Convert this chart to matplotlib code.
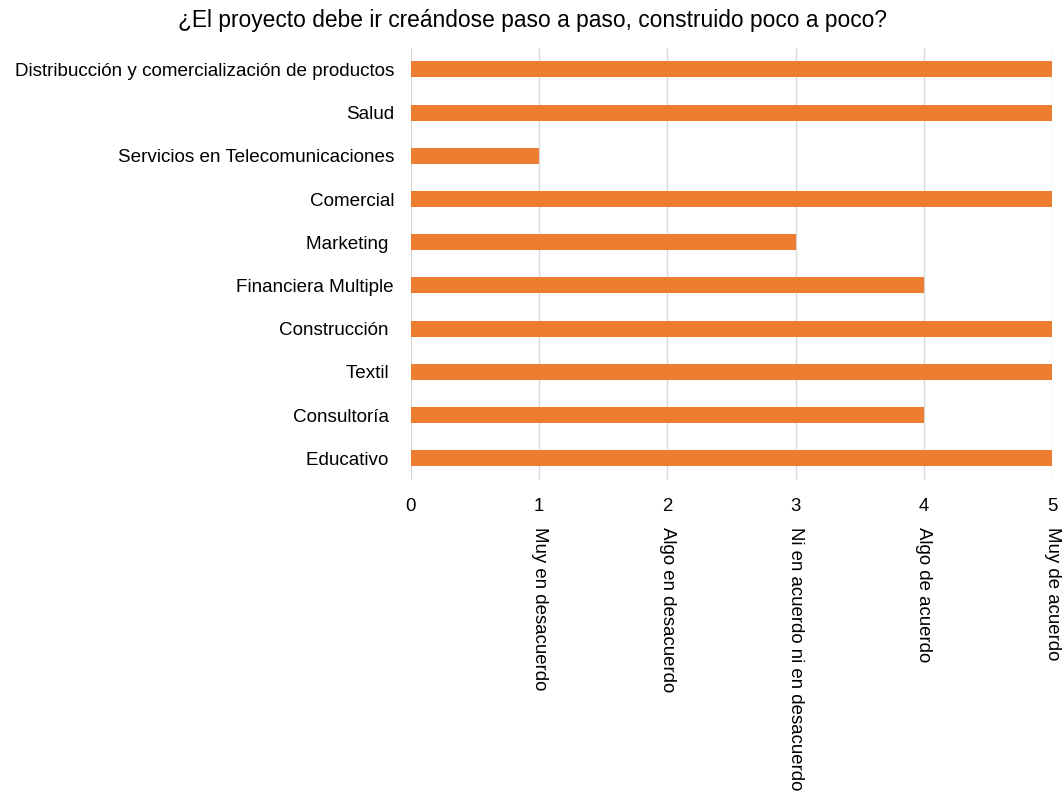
import matplotlib.pyplot as plt

plt.rcParams['font.family'] = ['Liberation Sans', 'DejaVu Sans']

sectores = [
    "Distribucción y comercialización de productos",
    "Salud",
    "Servicios en Telecomunicaciones",
    "Comercial",
    "Marketing ",
    "Financiera Multiple",
    "Construcción ",
    "Textil ",
    "Consultoría ",
    "Educativo ",
]
respuestas = [5, 5, 1, 5, 3, 4, 5, 5, 4, 5]
escala = ["Muy en desacuerdo", "Algo en desacuerdo",
          "Ni en acuerdo ni en desacuerdo", "Algo de acuerdo", "Muy de acuerdo"]

fig = plt.figure(figsize=(10.64, 7.96), dpi=100)
ax = fig.add_axes([0.386, 0.397, 0.603, 0.543])

pos = list(range(len(sectores)))
ax.barh(pos, respuestas, height=0.37, color='#ED7D31', zorder=3)
ax.set_ylim(len(sectores) - 0.5, -0.5)
ax.set_xlim(0, 5)
ax.set_yticks(pos)
ax.set_yticklabels(sectores, fontsize=13.6)
ax.set_xticks(range(6))
ax.tick_params(axis='y', length=0, pad=12)
ax.tick_params(axis='x', length=0, pad=13, labelsize=13.4)
ax.grid(axis='x', color='#d9d9d9', linewidth=1, zorder=0)
for s in ax.spines.values():
    s.set_visible(False)

# etiquetas de la escala, giradas debajo de los números
for i, txt in enumerate(escala, start=1):
    ax.annotate(txt, xy=(i, 0), xycoords=('data', 'axes fraction'),
                xytext=(0, -34), textcoords='offset points',
                rotation=270, ha='center', va='top', fontsize=13.4)

fig.suptitle("¿El proyecto debe ir creándose paso a paso, construido poco a poco?",
             x=0.5, y=1 - 20 / 796, va='center', fontsize=16.4)

fig.savefig('out.png', dpi=100)
